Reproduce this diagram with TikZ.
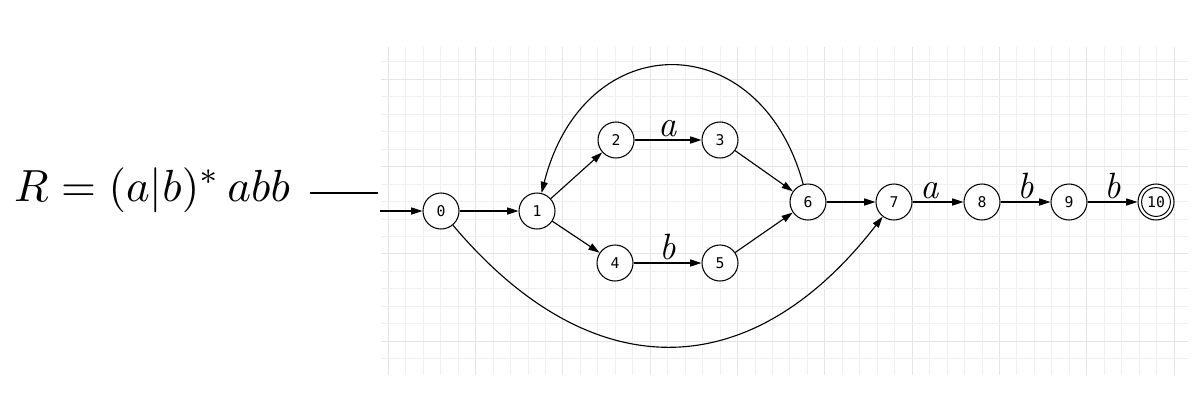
\documentclass[tikz,border=0pt]{standalone}
\usepackage{fontspec}
\newfontfamily\statefont{DejaVu Sans Mono}
\usetikzlibrary{arrows.meta}

\begin{document}
\begin{tikzpicture}[x=0.025cm,y=-0.025cm,
    st/.style={draw,circle,fill=white,line width=0.75pt,minimum size=0.9cm,inner sep=0pt,font=\statefont\fontsize{10.5}{12}\selectfont},
    tr/.style={line width=0.8pt,-{Triangle[length=8pt,width=5pt]}},
    lbl/.style={font=\itshape\fontsize{26}{28}\selectfont,inner sep=1pt},
    minor/.style={draw=black!6,line width=0.6pt},
    major/.style={draw=black!10,line width=0.7pt}]
	\useasboundingbox (0,0) rectangle (1200,410);

	% grid paper
	\foreach \i in {0,...,45} {
	  \pgfmathsetmacro{\gx}{388.3+17.46*\i}
	  \pgfmathtruncatemacro{\m}{mod(\i,5)}
	  \ifnum\m=0 \draw[major] (\gx,47) -- (\gx,375); \else \draw[minor] (\gx,47) -- (\gx,375); \fi
	}
	\foreach \j in {0,...,17} {
	  \pgfmathsetmacro{\gy}{61.8+17.46*\j}
	  \pgfmathtruncatemacro{\m}{mod(\j,5)}
	  \ifnum\m=1 \draw[major] (381,\gy) -- (1188,\gy); \else \draw[minor] (381,\gy) -- (1188,\gy); \fi
	}

	\node[inner sep=0pt] (regex) at (152,190) {\scalebox{3.2}{$R=(a|b)^{*}\,abb$}};
	\coordinate (dashl) at (310,193); \coordinate (dashr) at (378,193);
	\draw[line width=0.8pt] (dashl) -- (dashr);

	\node[st] (n0) at (441,211) {0};
	\node[st] (n1) at (537,211) {1};
	\node[st] (n2) at (616,140) {2};
	\node[st] (n3) at (720,140) {3};
	\node[st] (n4) at (615,263) {4};
	\node[st] (n5) at (720,263) {5};
	\node[st] (n6) at (808,202) {6};
	\node[st] (n7) at (894,202) {7};
	\node[st] (n8) at (982,202) {8};
	\node[st] (n9) at (1069,202) {9};
	\node[st] (n10) at (1156,202) {10};
	\draw[line width=0.7pt] (n10.center) circle (0.36cm);

	\coordinate (start) at (380,211);
	\draw[tr] (start) -- (n0);
	\draw[tr] (n0) -- (n1);
	\draw[tr] (n1) -- (n2); \draw[tr] (n1) -- (n4);
	\draw[tr] (n2) -- node[lbl,above=1pt] (la) {a} (n3);
	\draw[tr] (n4) -- node[lbl,above=1pt] (lb) {b} (n5);
	\draw[tr] (n3) -- (n6); \draw[tr] (n5) -- (n6);
	\draw[tr] (n6) .. controls (760,25) and (584,25) .. (n1);
	\draw[tr] (n0) .. controls (590,388) and (750,388) .. (n7);
	\draw[tr] (n6) -- (n7);
	\draw[tr] (n7) -- node[lbl,above=1pt,xshift=-6] (la2) {a} (n8);
	\draw[tr] (n8) -- node[lbl,above=1pt] (lb2) {b} (n9);
	\draw[tr] (n9) -- node[lbl,above=1pt] (lb3) {b} (n10);
\end{tikzpicture}
\end{document}
